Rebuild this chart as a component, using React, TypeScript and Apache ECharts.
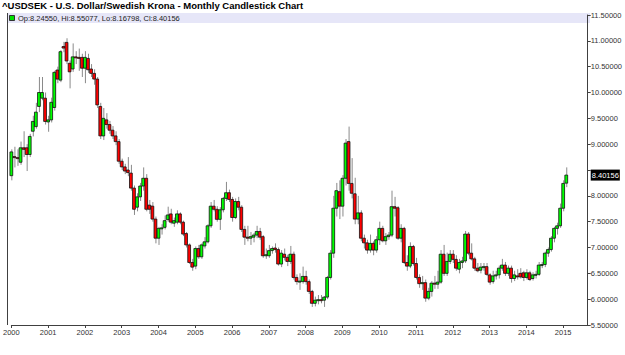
import React, { useEffect, useRef } from "react";
import * as echarts from "echarts";

const TITLE = "^USDSEK - U.S. Dollar/Swedish Krona - Monthly Candlestick Chart";
const YEARS = [2000, 2001, 2002, 2003, 2004, 2005, 2006, 2007, 2008, 2009, 2010, 2011, 2012, 2013, 2014, 2015];
const SLOT_COUNT = 189; // Jan 2000 .. Sep 2015 (last months empty)

const opens = [
  8.39, 8.76, 8.74, 8.65, 8.93, 8.93, 8.80, 9.25, 9.34, 9.73, 9.89, 9.89,
  9.43, 9.47, 9.71, 10.435, 10.24, 10.89, 10.97, 10.565, 10.455, 10.69, 10.68, 10.68,
  10.47, 10.66, 10.455, 10.37, 10.26, 9.73, 9.16, 9.47, 9.38, 9.27, 9.16, 9.05,
  8.67, 8.56, 8.50, 8.44, 8.15, 7.78, 7.98, 8.19, 8.34, 7.82, 7.80, 7.55,
  7.18, 7.37, 7.39, 7.54, 7.65, 7.47, 7.49, 7.65, 7.49, 7.27, 7.05, 6.71,
  6.64, 6.98, 6.82, 7.03, 7.11, 7.42, 7.80, 7.74, 7.545, 7.73, 7.95, 8.06,
  7.93, 7.58, 7.89, 7.78, 7.35, 7.20, 7.18, 7.20, 7.24, 7.31, 7.21, 6.84,
  6.84, 6.94, 6.99, 6.96, 6.68, 6.87, 6.81, 6.73, 6.87, 6.42, 6.34, 6.34,
  6.44, 6.34, 6.15, 5.92, 5.98, 5.99, 5.98, 6.04, 6.42, 6.89, 7.76, 8.08,
  7.80, 8.34, 9.05, 8.24, 8.04, 7.55, 7.67, 7.18, 7.09, 6.95, 7.08, 6.95,
  7.15, 7.37, 7.13, 7.21, 7.24, 7.79, 7.77, 7.18, 7.37, 6.71, 6.64, 7.02,
  6.69, 6.42, 6.30, 6.32, 6.02, 6.15, 6.31, 6.29, 6.33, 6.87, 6.50, 6.73,
  6.87, 6.77, 6.58, 6.71, 6.74, 7.26, 6.89, 6.78, 6.60, 6.56, 6.62, 6.63,
  6.47, 6.34, 6.45, 6.47, 6.60, 6.66, 6.50, 6.60, 6.40, 6.45, 6.50, 6.51,
  6.42, 6.51, 6.40, 6.47, 6.48, 6.66, 6.67, 6.89, 6.96, 7.18, 7.37, 7.42,
  7.76, 8.2455,
];

const highs = [
  8.90, 8.95, 8.90, 9.05, 9.25, 9.00, 9.20, 9.55, 9.80, 10.30, 10.30, 10.00,
  9.55, 9.90, 10.42, 10.50, 10.82, 10.98, 11.05, 10.62, 10.95, 10.80, 10.85, 10.75,
  10.80, 10.75, 10.55, 10.45, 10.30, 9.80, 9.70, 9.60, 9.45, 9.35, 9.25, 9.10,
  8.72, 8.62, 8.75, 8.60, 8.20, 8.05, 8.25, 8.55, 8.42, 7.92, 7.88, 7.60,
  7.40, 7.45, 7.62, 7.79, 7.75, 7.58, 7.72, 7.68, 7.52, 7.30, 7.08, 6.78,
  7.02, 7.05, 7.08, 7.20, 7.45, 7.88, 7.92, 7.80, 7.78, 7.98, 8.27, 8.12,
  7.98, 7.95, 7.98, 7.82, 7.42, 7.42, 7.30, 7.28, 7.42, 7.38, 7.24, 6.98,
  7.05, 7.02, 7.08, 7.00, 6.95, 6.98, 6.86, 7.03, 6.92, 6.48, 6.50, 6.63,
  6.55, 6.38, 6.18, 6.05, 6.08, 6.08, 6.06, 6.45, 6.95, 8.00, 8.25, 8.30,
  8.40, 9.10, 9.34, 8.73, 8.35, 8.00, 7.72, 7.25, 7.15, 7.25, 7.12, 7.22,
  7.50, 7.42, 7.28, 7.30, 8.10, 7.98, 7.80, 7.45, 7.40, 6.85, 7.10, 7.05,
  6.80, 6.48, 6.45, 6.38, 6.22, 6.35, 6.45, 6.55, 6.95, 7.05, 6.90, 6.95,
  6.95, 6.85, 6.78, 6.82, 7.32, 7.30, 7.08, 6.82, 6.70, 6.70, 6.70, 6.70,
  6.50, 6.55, 6.55, 6.65, 6.78, 6.72, 6.65, 6.65, 6.55, 6.58, 6.60, 6.55,
  6.58, 6.55, 6.52, 6.55, 6.72, 6.72, 6.92, 7.00, 7.22, 7.40, 7.48, 7.85,
  8.30, 8.55077,
];

const lows = [
  8.30, 8.55, 8.58, 8.60, 8.75, 8.48, 8.75, 9.15, 9.30, 9.62, 9.85, 9.38,
  9.24, 9.42, 9.65, 10.18, 10.20, 10.78, 10.55, 10.08, 10.40, 10.55, 10.42, 10.30,
  10.18, 10.38, 10.30, 10.15, 9.70, 9.10, 9.08, 9.30, 9.20, 9.10, 8.98, 8.62,
  8.50, 8.42, 8.38, 8.10, 7.63, 7.70, 7.90, 8.10, 7.70, 7.65, 7.50, 7.08,
  7.05, 7.25, 7.35, 7.50, 7.45, 7.40, 7.45, 7.45, 7.22, 7.00, 6.68, 6.55,
  6.58, 6.78, 6.78, 6.98, 7.08, 7.38, 7.70, 7.50, 7.34, 7.68, 7.90, 7.88,
  7.50, 7.55, 7.72, 7.30, 7.05, 7.12, 7.05, 7.10, 7.18, 7.15, 6.80, 6.78,
  6.80, 6.88, 6.90, 6.65, 6.62, 6.75, 6.64, 6.68, 6.38, 6.28, 6.18, 6.30,
  6.28, 6.10, 5.85, 5.86, 5.90, 5.92, 5.85, 6.00, 6.38, 6.80, 7.60, 7.55,
  7.60, 8.20, 8.10, 7.95, 7.45, 7.45, 7.12, 6.98, 6.88, 6.90, 6.85, 6.90,
  7.05, 7.10, 7.05, 7.15, 7.20, 7.60, 7.15, 7.10, 6.68, 6.55, 6.60, 6.65,
  6.38, 6.22, 6.18, 5.95, 5.98, 6.05, 6.20, 6.20, 6.30, 6.45, 6.45, 6.68,
  6.70, 6.55, 6.50, 6.60, 6.70, 6.85, 6.75, 6.55, 6.52, 6.50, 6.55, 6.45,
  6.28, 6.30, 6.38, 6.40, 6.55, 6.45, 6.45, 6.32, 6.35, 6.38, 6.40, 6.35,
  6.38, 6.35, 6.36, 6.40, 6.45, 6.60, 6.62, 6.82, 6.92, 7.10, 7.25, 7.38,
  7.70, 8.16798,
];

const closes = [
  8.85, 8.74, 8.72, 8.93, 8.90, 8.80, 9.15, 9.44, 9.62, 10.00, 10.00, 9.44,
  9.47, 9.81, 10.39, 10.26, 10.79, 10.86, 10.61, 10.40, 10.69, 10.68, 10.66, 10.47,
  10.68, 10.44, 10.37, 10.26, 9.76, 9.16, 9.50, 9.38, 9.27, 9.16, 9.05, 8.67,
  8.56, 8.48, 8.45, 8.15, 7.74, 7.98, 8.19, 8.34, 7.74, 7.74, 7.55, 7.18,
  7.37, 7.38, 7.52, 7.63, 7.49, 7.52, 7.65, 7.49, 7.26, 7.05, 6.71, 6.62,
  6.98, 6.82, 7.05, 7.11, 7.42, 7.80, 7.74, 7.545, 7.73, 7.95, 8.06, 7.93,
  7.58, 7.89, 7.78, 7.35, 7.20, 7.18, 7.21, 7.24, 7.31, 7.20, 6.84, 6.86,
  6.94, 6.98, 6.96, 6.68, 6.89, 6.81, 6.73, 6.87, 6.42, 6.34, 6.35, 6.44,
  6.34, 6.15, 5.92, 5.98, 5.99, 5.98, 6.04, 6.42, 6.89, 7.76, 8.10, 7.80,
  8.34, 9.02, 8.24, 8.05, 7.55, 7.67, 7.18, 7.09, 6.95, 7.08, 6.95, 7.15,
  7.37, 7.13, 7.21, 7.24, 7.79, 7.76, 7.18, 7.37, 6.71, 6.64, 7.02, 6.69,
  6.42, 6.30, 6.32, 6.02, 6.15, 6.31, 6.29, 6.33, 6.87, 6.50, 6.73, 6.87,
  6.77, 6.60, 6.71, 6.74, 7.26, 6.89, 6.78, 6.60, 6.55, 6.62, 6.63, 6.48,
  6.33, 6.45, 6.47, 6.60, 6.66, 6.50, 6.60, 6.40, 6.47, 6.44, 6.43, 6.42,
  6.51, 6.38, 6.47, 6.48, 6.66, 6.67, 6.89, 6.96, 7.18, 7.37, 7.42, 7.76,
  8.24, 8.40156,
];

const Y_MIN = 5.5;
const Y_MAX = 11.5;
const Y_STEP = 0.5;

const months: string[] = [];
YEARS.forEach((y) => {
  for (let m = 1; m <= 12; m++) months.push(`${y}-${m < 10 ? "0" + m : m}`);
});
const categories = months.slice(0, SLOT_COUNT);

export default function App() {
  const ref = useRef<HTMLDivElement>(null);
  useEffect(() => {
    const chart = echarts.init(ref.current!, null, { renderer: "svg" });
    const last = closes.length - 1;
    const lastClose = closes[last];
    const data = closes.map((c, i) => [i, opens[i], c, lows[i], highs[i]]);
    const legendText = `Op:${opens[last].toFixed(5)}, Hi:${highs[last].toFixed(5)}, Lo:${lows[last].toFixed(5)}, Cl:${lastClose.toFixed(5)}`;
    const font = "'Liberation Sans', Arial, sans-serif";
    const yearTick = (idx: number) => idx % 12 === 0;

    chart.setOption({
      animation: false,
      backgroundColor: "#ffffff",
      title: {
        text: TITLE,
        left: 2,
        top: 0,
        padding: 0,
        textStyle: { fontSize: 9.5, fontWeight: "bold", color: "#000", fontFamily: font },
      },
      grid: { left: 7, right: 35, top: 15, bottom: 30, containLabel: false },
      xAxis: {
        type: "category",
        data: categories,
        boundaryGap: false,
        axisLine: { show: true, lineStyle: { color: "#404040", width: 1 } },
        axisTick: { show: true, interval: yearTick, length: 3, lineStyle: { color: "#404040" } },
        axisLabel: {
          interval: yearTick,
          formatter: (v: string) => v.slice(0, 4),
          fontSize: 7.5,
          color: "#333",
          fontFamily: font,
          margin: 3,
          hideOverlap: false,
        },
        splitLine: { show: false },
      },
      yAxis: {
        type: "value",
        position: "right",
        min: Y_MIN,
        max: Y_MAX,
        interval: Y_STEP,
        axisLine: { show: true, lineStyle: { color: "#404040", width: 1 } },
        axisTick: { show: true, length: 3, lineStyle: { color: "#404040" } },
        axisLabel: {
          formatter: (v: number) => (Math.abs(v - 8.5) < 1e-6 ? "" : v.toFixed(5)),
          fontSize: 7.5,
          color: "#333",
          fontFamily: font,
          margin: 3,
        },
        splitLine: { show: false },
      },
      graphic: [
        { id: "bar", type: "rect", shape: { x: 7, y: 13, width: 583, height: 10 }, style: { fill: "#e6e6f8" }, z: -1, silent: true },
        { id: "leftLine", type: "line", shape: { x1: 7.5, y1: 13, x2: 7.5, y2: 325 }, style: { stroke: "#404040", lineWidth: 1 }, silent: true },
        { id: "swatch", type: "rect", shape: { x: 9.5, y: 15.5, width: 5, height: 5 }, style: { fill: "#00e000", stroke: "#333", lineWidth: 1 }, silent: true },
        {
          id: "legendText",
          type: "text",
          x: 18,
          y: 18,
          style: { text: legendText, fontSize: 7.5, fill: "#222", fontFamily: font, verticalAlign: "middle" },
          silent: true,
        },
      ],
      series: [
        {
          type: "custom",
          data,
          encode: { x: 0, y: [1, 2, 3, 4] },
          clip: false,
          renderItem: (params: any, api: any) => {
            const idx = api.value(0);
            const o = api.value(1);
            const c = api.value(2);
            const l = api.value(3);
            const h = api.value(4);
            const pO = api.coord([idx, o]);
            const pC = api.coord([idx, c]);
            const pL = api.coord([idx, l]);
            const pH = api.coord([idx, h]);
            const x = pO[0];
            const top = Math.min(pO[1], pC[1]);
            const ht = Math.max(Math.abs(pO[1] - pC[1]), 1);
            const up = c >= o;
            return {
              type: "group",
              children: [
                {
                  type: "line",
                  shape: { x1: x + 0.5, y1: pH[1], x2: x + 0.5, y2: pL[1] },
                  style: { stroke: "#8a8a8a", lineWidth: 1 },
                },
                {
                  type: "rect",
                  shape: { x: x - 1.4, y: top, width: 2.8, height: ht },
                  style: { fill: up ? "#00ff00" : "#ff0000", stroke: "#111", lineWidth: 0.8 },
                },
              ],
            };
          },
        },
      ],
    });

    // Last-close price tag on the right axis, positioned through the y axis scale
    const yPix = chart.convertToPixel({ yAxisIndex: 0 }, lastClose) as number;
    const xPix = chart.convertToPixel({ xAxisIndex: 0 }, categories.length - 1) as number;
    chart.setOption({
      graphic: [
        {
          id: "lastTag",
          type: "text",
          x: xPix + 3,
          y: yPix,
          style: {
            text: lastClose.toFixed(5),
            fontSize: 7.5,
            fontFamily: font,
            fill: "#fff",
            backgroundColor: "#000",
            padding: [2, 1, 1, 1],
            verticalAlign: "middle",
            align: "left",
          },
          silent: true,
        },
      ],
    });
    return () => chart.dispose();
  }, []);
  return (
    <div
      ref={ref}
      style={{ position: "fixed", left: 0, top: 0, width: 625, height: 355, background: "#fff" }}
    />
  );
}
